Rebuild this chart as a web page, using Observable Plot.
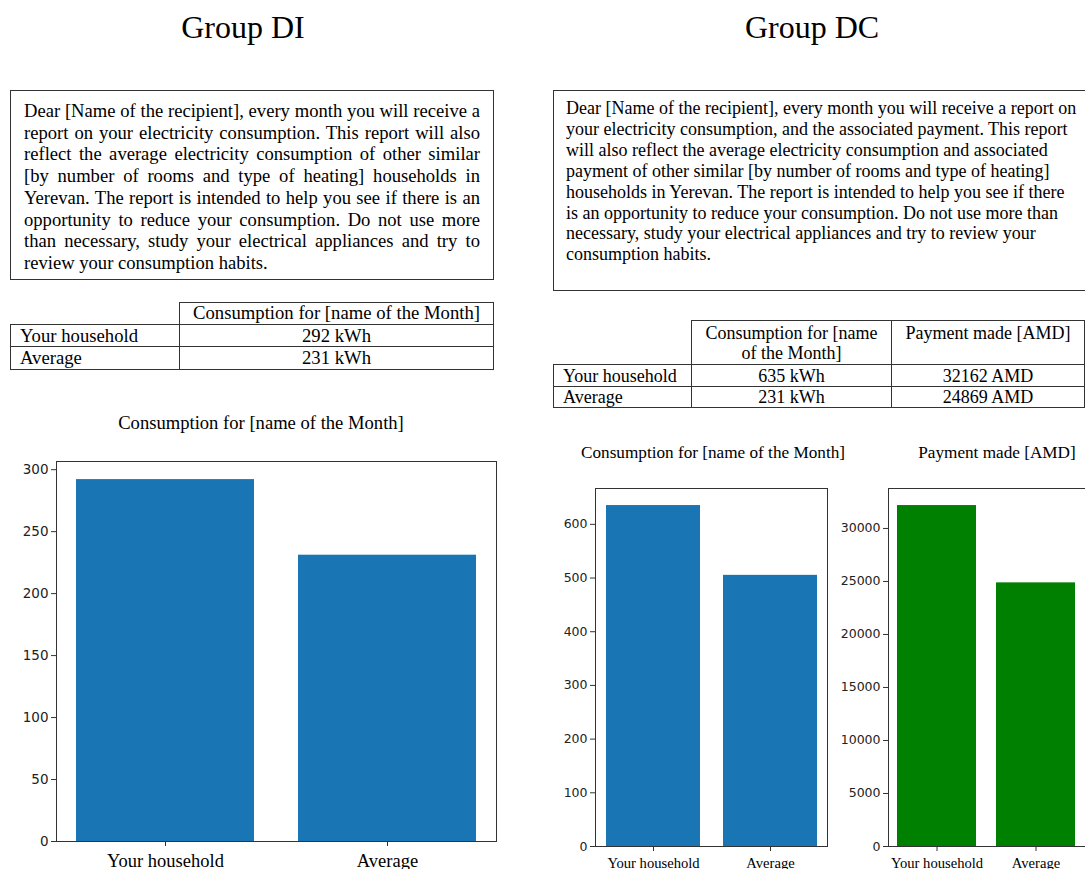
<!DOCTYPE html>
<html>
<head>
<meta charset="utf-8">
<script src="https://cdn.jsdelivr.net/npm/d3@7"></script>
<script src="https://cdn.jsdelivr.net/npm/@observablehq/plot@0.6"></script>
<style>
  html, body { margin: 0; padding: 0; background: #fff; }
  body { width: 1085px; height: 869px; position: relative; overflow: hidden; font-family: "Liberation Serif", "Times New Roman", serif; color: #000; }
  .abs { position: absolute; }
  .group-title { font-size: 32px; line-height: 40px; text-align: center; white-space: nowrap; }
  .box { border: 1px solid #333; box-sizing: border-box; }
  .box .ln { white-space: nowrap; }
  .di .ln { text-align: justify; text-align-last: justify; }
  .di .ln.last { text-align-last: left; }
  table { border-collapse: collapse; table-layout: fixed; }
  td { border: 1px solid #333; padding: 0; white-space: nowrap; }
  .chart-title { text-align: center; white-space: nowrap; }
  svg { overflow: visible; }
</style>
</head>
<body>
<div id="root"></div>
<script>
// ---------- data ----------
const categories = ["Your household", "Average"];
const diConsumption = [292, 231];
const dcConsumption = [635, 505];
const dcPayment = [32162, 24869];
const diTicks = [0, 50, 100, 150, 200, 250, 300];
const dcConsTicks = [0, 100, 200, 300, 400, 500, 600];
const dcPayTicks = [0, 5000, 10000, 15000, 20000, 25000, 30000];
const diTableConsumption = ["292 kWh", "231 kWh"];
const dcTableConsumption = ["635 kWh", "231 kWh"];
const dcTablePayment = ["32162 AMD", "24869 AMD"];
const groupTitles = ["Group DI", "Group DC"];
const consumptionTitle = "Consumption for [name of the Month]";
const paymentTitle = "Payment made [AMD]";
const diLines = [
  "Dear [Name of the recipient], every month you will receive a",
  "report on your electricity consumption. This report will also",
  "reflect the average electricity consumption of other similar",
  "[by number of rooms and type of heating] households in",
  "Yerevan. The report is intended to help you see if there is an",
  "opportunity to reduce your consumption. Do not use more",
  "than necessary, study your electrical appliances and try to",
  "review your consumption habits."
];
const dcLines = [
  "Dear [Name of the recipient], every month you will receive a report on",
  "your electricity consumption, and the associated payment. This report",
  "will also reflect the average electricity consumption and associated",
  "payment of other similar [by number of rooms and type of heating]",
  "households in Yerevan. The report is intended to help you see if there",
  "is an opportunity to reduce your consumption. Do not use more than",
  "necessary, study your electrical appliances and try to review your",
  "consumption habits."
];

const root = document.getElementById("root");
function el(tag, cls, css, html) {
  const e = document.createElement(tag);
  if (cls) e.className = cls;
  if (css) Object.assign(e.style, css);
  if (html != null) e.innerHTML = html;
  root.appendChild(e);
  return e;
}

// ---------- group titles ----------
el("div", "abs group-title", {left: "0px", width: "486px", top: "7px"}, groupTitles[0]);
el("div", "abs group-title", {left: "612px", width: "400px", top: "7px"}, groupTitles[1]);

// ---------- text boxes ----------
const diBox = el("div", "abs box di", {left: "10px", top: "90px", width: "484px", height: "190px",
  padding: "9px 13px 0 13px", fontSize: "18.6px", lineHeight: "21.7px"});
diLines.forEach((t, i) => {
  const d = document.createElement("div");
  d.className = "ln" + (i === diLines.length - 1 ? " last" : "");
  d.textContent = t;
  diBox.appendChild(d);
});
const dcBox = el("div", "abs box dc", {left: "553px", top: "90px", width: "540px", height: "201px",
  padding: "7px 12px 0 12px", fontSize: "18px", lineHeight: "20.9px"});
dcLines.forEach(t => {
  const d = document.createElement("div");
  d.className = "ln";
  d.textContent = t;
  dcBox.appendChild(d);
});

// ---------- tables ----------
function buildTable(left, top, colWidths, rows, fontSize, headerHeight, rowHeights, headerPad) {
  const tbl = el("table", "abs", {left: left + "px", top: top + "px", fontSize: fontSize + "px"});
  const cg = document.createElement("colgroup");
  colWidths.forEach(w => { const c = document.createElement("col"); c.style.width = w + "px"; cg.appendChild(c); });
  tbl.appendChild(cg);
  tbl.style.width = d3.sum(colWidths) + "px";
  rows.forEach((r, ri) => {
    const tr = document.createElement("tr");
    tr.style.height = (ri === 0 ? headerHeight : rowHeights[ri - 1]) + "px";
    r.forEach((c, ci) => {
      const td = document.createElement("td");
      td.innerHTML = c;
      td.style.lineHeight = "20px";
      if (ri === 0) { td.style.verticalAlign = "top"; td.style.textAlign = "center"; td.style.paddingTop = headerPad + "px"; }
      if (ci === 0) { td.style.textAlign = "left"; td.style.paddingLeft = "9px"; }
      else td.style.textAlign = "center";
      if (ri === 0 && ci === 0) { td.style.borderTop = "none"; td.style.borderLeft = "none"; }
      tr.appendChild(td);
    });
    tbl.appendChild(tr);
  });
  return tbl;
}
buildTable(10, 302, [169, 314], [
  ["", consumptionTitle],
  [categories[0], diTableConsumption[0]],
  [categories[1], diTableConsumption[1]]
], 18.7, 22, [22, 23], 0);
buildTable(553, 320, [138, 200, 193], [
  ["", "Consumption for [name<br>of the Month]", paymentTitle],
  [categories[0], dcTableConsumption[0], dcTablePayment[0]],
  [categories[1], dcTableConsumption[1], dcTablePayment[1]]
], 18, 44, [22, 20], 2);

// ---------- chart titles ----------
el("div", "abs chart-title", {left: "111px", width: "300px", top: "412px", fontSize: "18.6px", lineHeight: "22px"}, consumptionTitle);
el("div", "abs chart-title", {left: "563px", width: "300px", top: "442px", fontSize: "17.2px", lineHeight: "22px"}, consumptionTitle);
el("div", "abs chart-title", {left: "907px", width: "180px", top: "442px", fontSize: "17.2px", lineHeight: "22px"}, paymentTitle);

// ---------- bar charts ----------
function barChart({values, ticks, fill, width, height, marginLeft, marginRight, marginTop, marginBottom, yFont, xFont, xPad}) {
  const data = categories.map((c, i) => ({category: c, value: values[i]}));
  const ymax = d3.max(values) * 1.05;
  const svg = Plot.plot({
    width, height, marginLeft, marginRight, marginTop, marginBottom,
    style: {background: "transparent", fontFamily: "DejaVu Sans", fontSize: yFont + "px", color: "#222", overflow: "visible"},
    x: {domain: categories, paddingInner: 0.2, paddingOuter: 0.09, align: 0.5, label: null},
    y: {domain: [0, ymax], label: null},
    marks: [
      Plot.barY(data, {x: "category", y: "value", fill}),
      Plot.axisY({ticks, tickSize: 5, tickPadding: 3, label: null, tickFormat: "d", stroke: "#333", fill: "#222",
        fontSize: yFont, fontFamily: "DejaVu Sans"}),
      Plot.axisX({tickSize: 5, tickPadding: xPad, label: null, stroke: "#333", fill: "#000",
        fontFamily: "Liberation Serif", fontSize: xFont}),
      Plot.frame({stroke: "#333"})
    ]
  });
  svg.querySelectorAll('[aria-label="x-axis tick label"] text').forEach(t => {
    t.style.fontFamily = '"Liberation Serif", "Times New Roman", serif';
    t.style.fontSize = xFont + "px";
  });
  svg.querySelectorAll('[aria-label="y-axis tick label"] text').forEach(t => {
    t.style.fontFamily = '"DejaVu Sans", sans-serif';
    t.style.fontSize = yFont + "px";
  });
  return svg;
}

function place(svg, left, top) {
  svg.style.position = "absolute";
  svg.style.left = left + "px";
  svg.style.top = top + "px";
  root.appendChild(svg);
}

place(barChart({values: diConsumption, ticks: diTicks, fill: "#1a75b4",
  width: 500, height: 414, marginLeft: 56, marginRight: 4, marginTop: 6, marginBottom: 28, yFont: 13.5, xFont: 18.5, xPad: 7}), 0, 455);
place(barChart({values: dcConsumption, ticks: dcConsTicks, fill: "#1a75b4",
  width: 280, height: 389, marginLeft: 40, marginRight: 8, marginTop: 8, marginBottom: 23, yFont: 12.5, xFont: 14.6, xPad: 6}), 555, 480);
place(barChart({values: dcPayment, ticks: dcPayTicks, fill: "#008000",
  width: 250, height: 389, marginLeft: 53, marginRight: 0, marginTop: 8, marginBottom: 23, yFont: 12.5, xFont: 14.6, xPad: 6}), 835, 480);
</script>
</body>
</html>
